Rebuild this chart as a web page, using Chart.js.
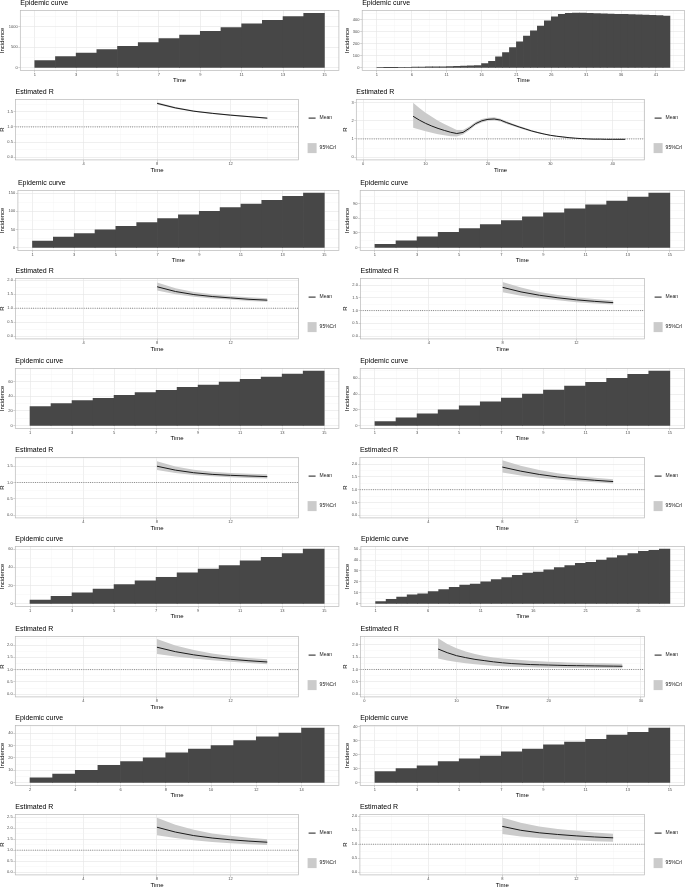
<!DOCTYPE html>
<html>
<head>
<meta charset="utf-8">
<script src="https://cdn.jsdelivr.net/npm/chart.js@4.4.0/dist/chart.umd.min.js"></script>
<style>
  body { margin: 0; background: #fff; width: 685px; height: 888px; position: relative; overflow: hidden; }
  canvas { position: absolute; }
</style>
</head>
<body>
<script>
// ---- days ----
var dayA = [1, 2, 3, 4, 5, 6, 7, 8, 9, 10, 11, 12, 13, 14];
var dayB = [1, 2, 3, 4, 5, 6, 7, 8, 9, 10, 11, 12, 13, 14, 15, 16, 17, 18, 19, 20, 21,
            22, 23, 24, 25, 26, 27, 28, 29, 30, 31, 32, 33, 34, 35, 36, 37, 38, 39, 40, 41, 42];
var dayC = [1, 2, 3, 4, 5, 6, 7, 8, 9, 10, 11, 12, 13, 14, 15, 16, 17, 18, 19, 20, 21,
            22, 23, 24, 25, 26, 27, 28];
var dayD = [2, 3, 4, 5, 6, 7, 8, 9, 10, 11, 12, 13, 14];
var rDayA = [8, 9, 10, 11, 12, 13, 14];
var rDayB = [8, 9, 10, 11, 12, 13, 14, 15, 16, 17, 18, 19, 20, 21, 22, 23, 24, 25,
             26, 27, 28, 29, 30, 31, 32, 33, 34, 35, 36, 37, 38, 39, 40, 41, 42];
var rDayC = [8, 9, 10, 11, 12, 13, 14, 15, 16, 17, 18, 19, 20, 21, 22, 23, 24, 25, 26, 27, 28];

// ---- incidence ----
var inc1 = [172, 270, 360, 443, 525, 615, 713, 803, 893, 984, 1074, 1164, 1254, 1336];
var inc2 = [0, 1, 1, 2, 3, 4, 5, 6, 7, 8, 10, 11, 13, 15, 18, 33, 53, 89, 125, 167, 214,
            261, 306, 344, 389, 422, 442, 450, 452, 452, 451, 449, 447, 445, 443, 441, 439,
            437, 435, 433, 431, 428];
var inc3 = [18, 29, 39, 49, 59, 69, 80, 90, 100, 110, 120, 130, 141, 150];
var inc4 = [7, 14, 22, 31, 39, 47, 55, 63, 71, 79, 87, 95, 103, 111];
var inc5 = [26, 30, 34, 37, 41, 45, 48, 52, 55, 59, 63, 66, 70, 74];
var inc6 = [5, 10, 15, 20, 25, 30, 35, 40, 45, 50, 55, 60, 65, 69];
var inc7 = [4, 8, 12, 16, 21, 25, 29, 34, 38, 42, 47, 51, 55, 60];
var inc8 = [2, 4, 6, 8, 9, 11, 13, 15, 17, 18, 20, 22, 24, 26, 28, 29, 31, 33, 35, 37, 38,
            40, 42, 44, 46, 48, 49, 50];
var inc9 = [4, 7, 10, 14, 17, 20, 24, 27, 30, 34, 37, 40, 44];
var inc10 = [8, 10, 12, 15, 17, 19, 22, 24, 27, 29, 31, 34, 36, 39];

// ---- estimated R (mean, 95% CrI) ----
var rMean1 = [1.78, 1.63, 1.52, 1.45, 1.39, 1.34, 1.29];
var rLow1  = [1.74, 1.60, 1.50, 1.43, 1.37, 1.32, 1.27];
var rHigh1 = [1.82, 1.66, 1.54, 1.47, 1.41, 1.36, 1.31];

var rMean2 = [2.25, 2.04, 1.86, 1.71, 1.58, 1.47, 1.37, 1.30, 1.36, 1.58, 1.84, 2.00, 2.08, 2.10,
              2.04, 1.90, 1.78, 1.66, 1.55, 1.44, 1.35, 1.27, 1.20, 1.15, 1.11, 1.07, 1.04, 1.02,
              1.00, 0.99, 0.99, 0.98, 0.98, 0.98, 0.98];
var rLow2  = [1.62, 1.52, 1.42, 1.34, 1.26, 1.20, 1.15, 1.13, 1.24, 1.48, 1.75, 1.91, 2.00, 2.02,
              1.96, 1.83, 1.72, 1.61, 1.50, 1.40, 1.31, 1.24, 1.17, 1.12, 1.08, 1.05, 1.02, 1.00,
              0.98, 0.97, 0.97, 0.96, 0.96, 0.96, 0.96];
var rHigh2 = [3.00, 2.70, 2.45, 2.22, 2.00, 1.82, 1.66, 1.50, 1.50, 1.69, 1.94, 2.10, 2.17, 2.19,
              2.12, 1.97, 1.84, 1.71, 1.60, 1.48, 1.39, 1.30, 1.23, 1.18, 1.14, 1.10, 1.06, 1.04,
              1.02, 1.01, 1.01, 1.00, 1.00, 1.00, 1.00];

var rMean3 = [1.77, 1.60, 1.49, 1.42, 1.37, 1.32, 1.29];
var rLow3  = [1.64, 1.50, 1.41, 1.35, 1.31, 1.26, 1.23];
var rHigh3 = [1.92, 1.72, 1.58, 1.50, 1.44, 1.39, 1.36];

var rMean4 = [1.91, 1.73, 1.60, 1.50, 1.42, 1.36, 1.31];
var rLow4  = [1.72, 1.58, 1.48, 1.40, 1.33, 1.28, 1.24];
var rHigh4 = [2.12, 1.90, 1.73, 1.61, 1.52, 1.45, 1.39];

var rMean5 = [1.50, 1.38, 1.30, 1.25, 1.22, 1.20, 1.18];
var rLow5  = [1.38, 1.29, 1.23, 1.19, 1.16, 1.14, 1.12];
var rHigh5 = [1.65, 1.49, 1.39, 1.33, 1.29, 1.27, 1.25];

var rMean6 = [1.89, 1.73, 1.60, 1.50, 1.43, 1.37, 1.32];
var rLow6  = [1.68, 1.56, 1.47, 1.40, 1.34, 1.29, 1.24];
var rHigh6 = [2.16, 1.94, 1.77, 1.65, 1.55, 1.47, 1.41];

var rMean7 = [1.91, 1.73, 1.60, 1.50, 1.42, 1.36, 1.31];
var rLow7  = [1.63, 1.53, 1.45, 1.38, 1.32, 1.27, 1.22];
var rHigh7 = [2.24, 1.98, 1.80, 1.65, 1.55, 1.47, 1.42];

var rMean8 = [1.83, 1.68, 1.56, 1.48, 1.41, 1.36, 1.31, 1.27, 1.24, 1.22, 1.20, 1.19, 1.18, 1.17,
              1.16, 1.155, 1.15, 1.145, 1.14, 1.135, 1.13];
var rLow8  = [1.45, 1.36, 1.30, 1.25, 1.21, 1.18, 1.15, 1.13, 1.11, 1.10, 1.09, 1.08, 1.07, 1.07,
              1.06, 1.06, 1.06, 1.06, 1.06, 1.05, 1.05];
var rHigh8 = [2.27, 2.03, 1.86, 1.73, 1.63, 1.55, 1.49, 1.44, 1.41, 1.38, 1.35, 1.33, 1.31, 1.30,
              1.28, 1.27, 1.26, 1.25, 1.25, 1.24, 1.23];

var rMean9 = [2.04, 1.82, 1.66, 1.55, 1.47, 1.41, 1.36];
var rLow9  = [1.68, 1.55, 1.45, 1.37, 1.31, 1.27, 1.23];
var rHigh9 = [2.47, 2.15, 1.92, 1.76, 1.65, 1.56, 1.50];

var rMean10 = [1.64, 1.50, 1.41, 1.35, 1.30, 1.26, 1.23];
var rLow10  = [1.37, 1.28, 1.22, 1.18, 1.14, 1.11, 1.09];
var rHigh10 = [1.96, 1.77, 1.64, 1.55, 1.48, 1.42, 1.38];

var rThreshold = 1;
var legendLabels = ['Mean', '95%CrI'];

// ---- tick labels ----
var epiXOdd = ['1', '3', '5', '7', '9', '11', '13', '15'];
var epiXEven = ['2', '4', '6', '8', '10', '12', '14'];
var epiXB = ['1', '6', '11', '16', '21', '26', '31', '36', '41'];
var epiXC = ['1', '6', '11', '16', '21', '26'];
var epiY1 = ['0', '500', '1000'];
var epiY2 = ['0', '100', '200', '300', '400'];
var epiY3 = ['0', '50', '100', '150'];
var epiY4 = ['0', '30', '60', '90'];
var epiY5 = ['0', '20', '40', '60'];
var epiY8 = ['0', '10', '20', '30', '40', '50'];
var epiY9 = ['0', '10', '20', '30', '40'];
var rXA = ['4', '8', '12'];
var rXB = ['0', '10', '20', '30', '40'];
var rXC = ['0', '10', '20', '30'];
var rYa = ['0.0', '0.5', '1.0', '1.5'];
var rYb = ['0.0', '0.5', '1.0', '1.5', '2.0'];
var rYc = ['0', '1', '2', '3'];
var rYd = ['0.0', '0.5', '1.0', '1.5', '2.0', '2.5'];

// ---- panels ----
var panels = [
  { row: 0, col: 0, days: dayA, inc: inc1, epiX: epiXOdd, epiY: epiY1, epiXR: [0.3, 15.7], epiYR: [-67, 1407],
    rDays: rDayA, mean: rMean1, low: rLow1, high: rHigh1, rX: rXA, rY: rYa, rXR: [0.3, 15.7], rYR: [-0.091, 1.911] },
  { row: 0, col: 1, days: dayB, inc: inc2, epiX: epiXB, epiY: epiY2, epiXR: [-1.1, 45.1], epiYR: [-22.6, 474.6],
    rDays: rDayB, mean: rMean2, low: rLow2, high: rHigh2, rX: rXB, rY: rYc, rXR: [-1.1, 45.1], rYR: [-0.155, 3.18] },
  { row: 1, col: 0, days: dayA, inc: inc3, epiX: epiXOdd, epiY: epiY3, epiXR: [0.3, 15.7], epiYR: [-7.5, 157.5],
    rDays: rDayA, mean: rMean3, low: rLow3, high: rHigh3, rX: rXA, rY: rYb, rXR: [0.3, 15.7], rYR: [-0.1, 2.07] },
  { row: 1, col: 1, days: dayA, inc: inc4, epiX: epiXOdd, epiY: epiY4, epiXR: [0.3, 15.7], epiYR: [-5.5, 116.5],
    rDays: rDayA, mean: rMean4, low: rLow4, high: rHigh4, rX: rXA, rY: rYb, rXR: [0.3, 15.7], rYR: [-0.11, 2.26] },
  { row: 2, col: 0, days: dayA, inc: inc5, epiX: epiXOdd, epiY: epiY5, epiXR: [0.3, 15.7], epiYR: [-3.7, 77.7],
    rDays: rDayA, mean: rMean5, low: rLow5, high: rHigh5, rX: rXA, rY: rYa, rXR: [0.3, 15.7], rYR: [-0.085, 1.77] },
  { row: 2, col: 1, days: dayA, inc: inc6, epiX: epiXOdd, epiY: epiY5, epiXR: [0.3, 15.7], epiYR: [-3.5, 72.5],
    rDays: rDayA, mean: rMean6, low: rLow6, high: rHigh6, rX: rXA, rY: rYb, rXR: [0.3, 15.7], rYR: [-0.11, 2.27] },
  { row: 3, col: 0, days: dayA, inc: inc7, epiX: epiXOdd, epiY: epiY5, epiXR: [0.3, 15.7], epiYR: [-3, 63],
    rDays: rDayA, mean: rMean7, low: rLow7, high: rHigh7, rX: rXA, rY: rYb, rXR: [0.3, 15.7], rYR: [-0.11, 2.35] },
  { row: 3, col: 1, days: dayC, inc: inc8, epiX: epiXC, epiY: epiY8, epiXR: [-0.4, 30.4], epiYR: [-2.5, 52.5],
    rDays: rDayC, mean: rMean8, low: rLow8, high: rHigh8, rX: rXC, rY: rYb, rXR: [-0.4, 30.4], rYR: [-0.11, 2.34] },
  { row: 4, col: 0, days: dayD, inc: inc9, epiX: epiXEven, epiY: epiY9, epiXR: [1.35, 15.65], epiYR: [-2.2, 46.2],
    rDays: rDayA, mean: rMean9, low: rLow9, high: rHigh9, rX: rXA, rY: rYd, rXR: [0.3, 15.7], rYR: [-0.12, 2.62] },
  { row: 4, col: 1, days: dayA, inc: inc10, epiX: epiXOdd, epiY: epiY9, epiXR: [0.3, 15.7], epiYR: [-1.95, 40.95],
    rDays: rDayA, mean: rMean10, low: rLow10, high: rHigh10, rX: rXA, rY: rYb, rXR: [0.3, 15.7], rYR: [-0.1, 2.07] }
];

// panel geometry (page pixels)
var epiTop = [10, 190, 368.3, 546.7, 725.7];
var rTop = [99.3, 278.3, 457.3, 636, 814.7];
var epiLeft = [[20.7, 18.3, 15.7, 15.7, 15.7], [362.3, 360.3, 360.3, 361, 360.3]];
var rLeft = [[16, 16, 15.7, 15.7, 15.7], [356.7, 361, 360.3, 361, 360.3]];
var epiRight = [339.3, 684.7];
var rRight = [299, 645];
var EPI_H = 60, R_H = 60.5, TITLE_H = 11.4, XAXIS_H = 14;

var BAR = '#474747';
var BAND = '#cbcbcb';
var FRAME = '#b8b8b8';
var GRID = '#e4e4e4';
var GRID_MINOR = '#f1f1f1';
var FONT = "'Liberation Sans', Arial, Helvetica, sans-serif";

Chart.defaults.font.family = FONT;
Chart.defaults.animation = false;

// panel border drawn on top of data, like theme_light
const frame = {
  id: 'frame',
  afterDatasetsDraw(chart) {
    const { ctx, chartArea: a } = chart;
    ctx.save();
    ctx.strokeStyle = FRAME;
    ctx.lineWidth = 0.7;
    ctx.strokeRect(a.left, a.top, a.right - a.left, a.bottom - a.top);
    ctx.restore();
  }
};

// dotted R = 1 reference line
const refLine = {
  id: 'refLine',
  beforeDatasetsDraw(chart) {
    const { ctx, chartArea: a } = chart;
    const y = chart.scales.y.getPixelForValue(rThreshold);
    ctx.save();
    ctx.strokeStyle = '#444';
    ctx.lineWidth = 0.7;
    ctx.setLineDash([0.8, 1.4]);
    ctx.beginPath();
    ctx.moveTo(a.left, y);
    ctx.lineTo(a.right, y);
    ctx.stroke();
    ctx.restore();
  }
};

// ggplot style legend to the right of the panel
const rLegend = {
  id: 'rLegend',
  afterDraw(chart) {
    const { ctx, chartArea: a } = chart;
    ctx.save();
    ctx.strokeStyle = '#1a1a1a';
    ctx.lineWidth = 1;
    ctx.beginPath();
    ctx.moveTo(a.right + 10, a.top + 18.7);
    ctx.lineTo(a.right + 17, a.top + 18.7);
    ctx.stroke();
    ctx.fillStyle = BAND;
    ctx.fillRect(a.right + 9, a.top + 43.7, 9, 10);
    ctx.fillStyle = '#1a1a1a';
    ctx.font = '5px ' + FONT;
    ctx.textBaseline = 'middle';
    ctx.fillText(legendLabels[0], a.right + 21, a.top + 18.7);
    ctx.fillText(legendLabels[1], a.right + 21, a.top + 48.7);
    ctx.restore();
  }
};

// major ticks from the labels, minor ones halfway between (ggplot default)
function buildTicks(labels, range) {
  const vals = labels.map(Number);
  const step = vals[1] - vals[0];
  const ticks = vals.map((v, i) => ({ value: v, lbl: labels[i], minor: false }));
  for (let k = -1; k <= vals.length; k++) {
    const v = vals[0] + step * (k + 0.5);
    if (v >= range[0] - 1e-9 && v <= range[1] + 1e-9) ticks.push({ value: v, lbl: '', minor: true });
  }
  return ticks.sort((a, b) => a.value - b.value);
}

function axis(labels, range, title, horizontal, size) {
  return {
    type: 'linear',
    min: range[0],
    max: range[1],
    offset: false,
    afterBuildTicks: s => { s.ticks = buildTicks(labels, range); },
    afterFit: s => { if (horizontal) s.height = size; else s.width = size; },
    ticks: {
      autoSkip: false, maxRotation: 0, minRotation: 0,
      padding: horizontal ? 0 : 0.7,
      color: '#4d4d4d',
      font: { size: 4, lineHeight: 1 },
      callback: (v, i, t) => t[i].lbl
    },
    grid: {
      offset: false,
      drawTicks: true,
      tickLength: 2,
      color: c => (c.tick && c.tick.minor ? GRID_MINOR : GRID),
      lineWidth: c => (c.tick && c.tick.minor ? 0.35 : 0.6),
      tickColor: c => (c.tick && c.tick.minor ? 'rgba(0,0,0,0)' : FRAME),
      tickWidth: 0.6
    },
    border: { display: false },
    title: { display: true, text: title, color: '#000', font: { size: 6, lineHeight: 1.2 }, padding: 0 }
  };
}

function titleOpts(text) {
  return {
    display: true, text: text, align: 'start', fullSize: false, color: '#000',
    font: { size: 7, weight: 'normal', lineHeight: 1.2 },
    padding: { top: 0, bottom: 3 }
  };
}

function addCanvas(left, top, w, h) {
  const c = document.createElement('canvas');
  c.width = w;
  c.height = h;
  c.style.left = left + 'px';
  c.style.top = top + 'px';
  c.style.width = w + 'px';
  c.style.height = h + 'px';
  document.body.appendChild(c);
  return c;
}

function drawEpi(p) {
  const cl = p.col ? 344.1 : -0.6;
  const cw = p.col ? 341 : 342;
  const ch = 88;
  const ct = epiTop[p.row] - 1 - TITLE_H;
  const canvas = addCanvas(cl, ct, cw, ch);
  new Chart(canvas, {
    type: 'bar',
    data: {
      datasets: [{
        data: p.days.map((d, i) => ({ x: d + 0.5, y: p.inc[i] })),
        backgroundColor: BAR,
        borderWidth: 0,
        barPercentage: 1,
        categoryPercentage: 1
      }]
    },
    options: {
      responsive: false,
      animation: false,
      layout: { padding: { left: 0, top: 1, right: cl + cw - epiRight[p.col], bottom: ch - 1 - TITLE_H - EPI_H - XAXIS_H } },
      scales: {
        x: axis(p.epiX, p.epiXR, 'Time', true, XAXIS_H),
        y: axis(p.epiY, p.epiYR, 'Incidence', false, epiLeft[p.col][p.row] - cl)
      },
      plugins: { legend: { display: false }, tooltip: { enabled: false }, title: titleOpts('Epidemic curve') }
    },
    plugins: [frame]
  });
}

function drawR(p) {
  const cl = p.col ? 342.4 : -0.6;
  const cw = 343;
  const ch = 89;
  const ct = rTop[p.row] - 1 - TITLE_H;
  const canvas = addCanvas(cl, ct, cw, ch);
  const pts = arr => p.rDays.map((d, i) => ({ x: d, y: arr[i] }));
  new Chart(canvas, {
    type: 'line',
    data: {
      datasets: [
        { data: pts(p.mean), borderColor: '#1a1a1a', borderWidth: 1, pointRadius: 0, fill: false },
        { data: pts(p.high), borderColor: 'rgba(0,0,0,0)', backgroundColor: BAND, pointRadius: 0, fill: '+1' },
        { data: pts(p.low), borderColor: 'rgba(0,0,0,0)', pointRadius: 0, fill: false }
      ]
    },
    options: {
      responsive: false,
      animation: false,
      layout: { padding: { left: 0, top: 1, right: cl + cw - rRight[p.col], bottom: ch - 1 - TITLE_H - R_H - XAXIS_H } },
      scales: {
        x: axis(p.rX, p.rXR, 'Time', true, XAXIS_H),
        y: axis(p.rY, p.rYR, 'R', false, rLeft[p.col][p.row] - cl)
      },
      plugins: { legend: { display: false }, tooltip: { enabled: false }, title: titleOpts('Estimated R') }
    },
    plugins: [frame, refLine, rLegend]
  });
}

panels.forEach(p => { drawEpi(p); drawR(p); });
</script>
</body>
</html>
